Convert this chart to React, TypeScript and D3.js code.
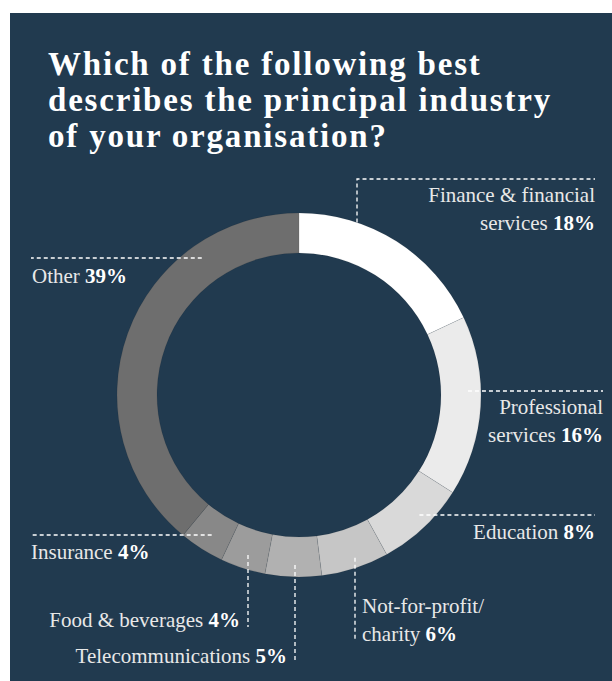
import React from "react";
import * as d3 from "d3";

const categories = [
  "Finance & financial services",
  "Professional services",
  "Education",
  "Not-for-profit/charity",
  "Telecommunications",
  "Food & beverages",
  "Insurance",
  "Other",
];
const values = [18, 16, 8, 6, 5, 4, 4, 39];
const colors = ["#ffffff", "#ebebeb", "#d9d9d9", "#c6c6c6", "#b1b1b1", "#9c9c9c", "#888888", "#6e6e6e"];
const labelLines = [
  ["Finance & financial", "services"],
  ["Professional", "services"],
  ["Education"],
  ["Not-for-profit/", "charity"],
  ["Telecommunications"],
  ["Food & beverages"],
  ["Insurance"],
  ["Other"],
];
const titleLines = [
  "Which of the following best",
  "describes the principal industry",
  "of your organisation?",
];

const W = 612;
const H = 681;
const cx = 299;
const cy = 395;
const R = 182;
const r = 142;

type Lay = {
  kind: "h" | "v" | "hv";
  anchor: "start" | "end";
  tx: number;
  ty: number;
  lx: number;
  ly: number;
  rl: number;
};
const layout: Lay[] = [
  { kind: "hv", anchor: "end", tx: 595, ty: 202, lx: 357, ly: 179, rl: 182 },
  { kind: "h", anchor: "end", tx: 603, ty: 414, lx: 603, ly: 391, rl: 169 },
  { kind: "h", anchor: "end", tx: 595, ty: 539, lx: 595, ly: 515, rl: 170 },
  { kind: "v", anchor: "start", tx: 362, ty: 613, lx: 355, ly: 640, rl: 172 },
  { kind: "v", anchor: "end", tx: 287, ty: 663, lx: 295, ly: 663, rl: 170 },
  { kind: "v", anchor: "end", tx: 240, ty: 627, lx: 248, ly: 627, rl: 168 },
  { kind: "h", anchor: "start", tx: 31, ty: 559, lx: 31, ly: 535, rl: 165 },
  { kind: "h", anchor: "start", tx: 32, ty: 283, lx: 31, ly: 258, rl: 168 },
];

export default function App() {
  const pie = d3.pie<number>().sort(null).value((d) => d);
  const arcs = pie(values);
  const arc = d3.arc<d3.PieArcDatum<number>>().innerRadius(r).outerRadius(R);
  const font = "'Liberation Serif', 'DejaVu Serif', serif";

  const leaderPath = (L: Lay) => {
    if (L.kind === "h") {
      const dy = L.ly - cy;
      const dx = Math.sqrt(L.rl * L.rl - dy * dy);
      const xr = L.lx > cx ? cx + dx : cx - dx;
      return `M${xr},${L.ly}L${L.lx},${L.ly}`;
    }
    if (L.kind === "v") {
      const dx = L.lx - cx;
      const dy = Math.sqrt(L.rl * L.rl - dx * dx);
      return `M${L.lx},${cy + dy}L${L.lx},${L.ly}`;
    }
    const dx = L.lx - cx;
    const dy = Math.sqrt(L.rl * L.rl - dx * dx);
    return `M${L.lx},${cy - dy}L${L.lx},${L.ly}L${L.tx},${L.ly}`;
  };

  return (
    <svg
      width={W}
      height={H}
      style={{ position: "absolute", left: 0, top: 0 }}
      fontFamily={font}
    >
      <rect x={0} y={0} width={W} height={H} fill="#ffffff" />
      <rect x={10} y={13} width={W - 10} height={H - 13} fill="#213a4f" />
      {titleLines.map((t, i) => (
        <text
          key={i}
          x={48}
          y={75 + i * 36}
          fill="#ffffff"
          fontSize={33}
          fontWeight="bold"
          letterSpacing={1.8}
        >
          {t}
        </text>
      ))}
      <g transform={`translate(${cx},${cy})`}>
        {arcs.map((a, i) => (
          <path
            key={categories[i]}
            d={arc(a) || ""}
            fill={colors[i]}
            stroke="rgba(0,0,0,0.12)"
            strokeWidth={0.6}
          />
        ))}
      </g>
      {layout.map((L, i) => (
        <path
          key={"l" + i}
          d={leaderPath(L)}
          fill="none"
          stroke="#ffffff"
          strokeWidth={1.3}
          strokeDasharray="4,3"
        />
      ))}
      {layout.map((L, i) => (
        <text
          key={"t" + i}
          x={L.tx}
          y={L.ty}
          textAnchor={L.anchor}
          fill="#e8e8e8"
          fontSize={21}
        >
          {labelLines[i].map((ln, j) => (
            <tspan key={j} x={L.tx} dy={j === 0 ? 0 : 28}>
              {ln}
              {j === labelLines[i].length - 1 ? (
                <tspan fontWeight="bold" fill="#ffffff">
                  {" " + values[i] + "%"}
                </tspan>
              ) : null}
            </tspan>
          ))}
        </text>
      ))}
    </svg>
  );
}
